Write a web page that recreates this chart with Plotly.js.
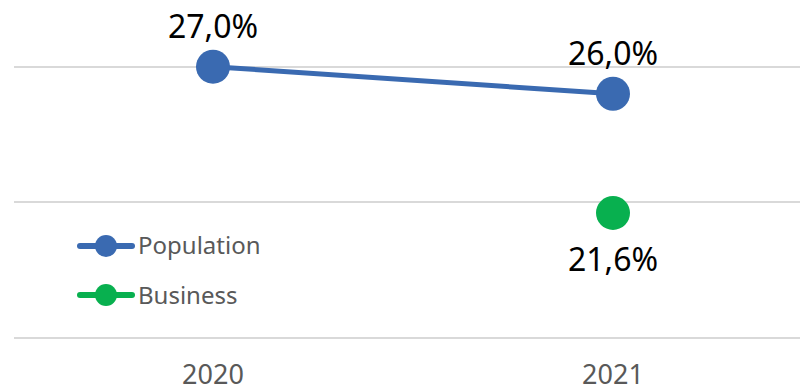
<!DOCTYPE html>
<html>
<head>
<meta charset="utf-8">
<script src="https://cdn.plot.ly/plotly-3.0.1.min.js"></script>
<style>
  html, body { margin: 0; padding: 0; background: #ffffff; }
  #chart { width: 800px; height: 392px; }
</style>
</head>
<body>
<div id="chart"></div>
<script>
// Years on the category axis
const years = ['2020', '2021'];

// Share (%) per series
const populationValues = [27.0, 26.0];
const businessYears = ['2021'];
const businessValues = [21.6];

// Series names and colours
const seriesNames = ['Population', 'Business'];
const seriesColors = ['#3A6AB1', '#08B04F'];

const labelFont = { family: 'Noto Sans, sans-serif', size: 32, color: '#000000' };
const fmt = v => v.toFixed(1).replace('.', ',') + '%';

const traces = [
  {
    type: 'scatter',
    mode: 'lines+markers',
    name: seriesNames[0],
    x: years,
    y: populationValues,
    line: { color: seriesColors[0], width: 5 },
    marker: { color: seriesColors[0], size: 34 },
    hoverinfo: 'skip',
    cliponaxis: false
  },
  {
    type: 'scatter',
    mode: 'markers',
    name: seriesNames[1],
    x: businessYears,
    y: businessValues,
    marker: { color: seriesColors[1], size: 34 },
    hoverinfo: 'skip',
    cliponaxis: false
  }
];

// Value labels: above the population points, below the business point.
// On a category axis annotations take the category's index.
const annotations = [];
years.forEach((yr, i) => annotations.push({
  x: years.indexOf(yr), y: populationValues[i], xref: 'x', yref: 'y',
  text: fmt(populationValues[i]), showarrow: false,
  yanchor: 'middle', yshift: 41, font: labelFont
}));
businessYears.forEach((yr, i) => annotations.push({
  x: years.indexOf(yr), y: businessValues[i], xref: 'x', yref: 'y',
  text: fmt(businessValues[i]), showarrow: false,
  yanchor: 'middle', yshift: -46, font: labelFont
}));

// Plot area geometry (pixels) used to place the hand-drawn legend
const W = 800, H = 392;
const M = { l: 14, r: 0, t: 0, b: 50 };
const plotW = W - M.l - M.r;
const plotH = H - M.t - M.b;
const px = v => (v - M.l) / plotW;
const py = v => (M.t + plotH - v) / plotH;

// Legend: line with a dot, then the series name
const legendRows = [246, 295];
const shapes = [];
seriesNames.forEach((name, i) => {
  const yc = legendRows[i];
  shapes.push({
    type: 'line', xref: 'paper', yref: 'paper',
    x0: px(80), x1: px(132), y0: py(yc), y1: py(yc),
    line: { color: seriesColors[i], width: 6 }
  });
  [80, 132].forEach(cx => shapes.push({
    type: 'circle', xref: 'paper', yref: 'paper',
    x0: px(cx - 3), x1: px(cx + 3), y0: py(yc - 3), y1: py(yc + 3),
    fillcolor: seriesColors[i], line: { width: 0 }
  }));
  shapes.push({
    type: 'circle', xref: 'paper', yref: 'paper',
    x0: px(106 - 11), x1: px(106 + 11), y0: py(yc - 11), y1: py(yc + 11),
    fillcolor: seriesColors[i], line: { width: 0 }
  });
  annotations.push({
    xref: 'paper', yref: 'paper',
    x: px(136), y: py(yc - 1),
    xanchor: 'left', yanchor: 'middle',
    text: name, showarrow: false,
    font: { family: 'Noto Sans, sans-serif', size: 24, color: '#595959' }
  });
});

const layout = {
  width: W,
  height: H,
  margin: M,
  paper_bgcolor: '#ffffff',
  plot_bgcolor: '#ffffff',
  showlegend: false,
  font: { family: 'Noto Sans, sans-serif' },
  xaxis: {
    type: 'category',
    categoryarray: years,
    range: [-0.4975, 1.4675],
    showgrid: false,
    zeroline: false,
    showline: false,
    ticks: '',
    ticklabelstandoff: 14,
    tickfont: { family: 'Noto Sans, sans-serif', size: 27, color: '#595959' },
    fixedrange: true
  },
  yaxis: {
    range: [16.834, 29.461],
    tickmode: 'array',
    tickvals: [17, 22, 27],
    showticklabels: false,
    showgrid: true,
    gridcolor: '#D9D9D9',
    gridwidth: 2,
    zeroline: false,
    showline: false,
    ticks: '',
    fixedrange: true
  },
  shapes: shapes,
  annotations: annotations
};

Plotly.newPlot('chart', traces, layout, { displayModeBar: false, staticPlot: true });
</script>
</body>
</html>
